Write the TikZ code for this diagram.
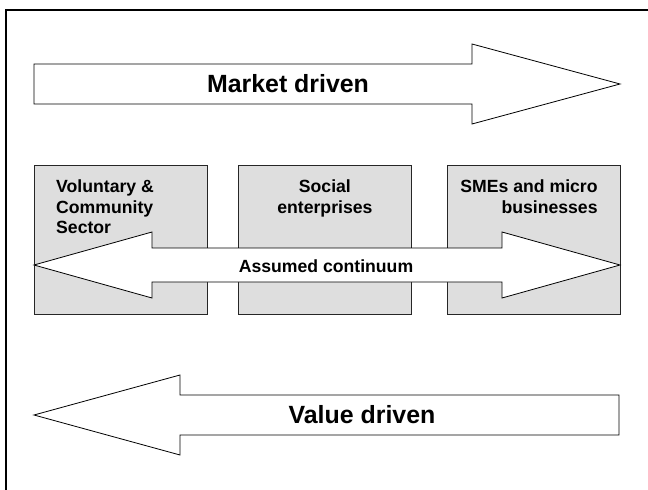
\documentclass[tikz,border=0pt]{standalone}
\usepackage{fontspec}
\setmainfont{Liberation Sans}
\begin{document}
\begin{tikzpicture}[x=1bp,y=-1bp,line join=miter,font=\bfseries]
	\tikzset{every node/.style={inner sep=0pt},
		sectorbox/.style={draw=black!85,fill=black!13,line width=0.8bp,minimum width=173bp,minimum height=149bp,anchor=north west},
		blockarrow/.style={draw=black,fill=white,line width=0.8bp},
		bigtext/.style={font=\bfseries\fontsize{25}{30}\selectfont},
		boxtext/.style={font=\bfseries\fontsize{17.7}{20.5}\selectfont}}
	\useasboundingbox (0,0) rectangle (648,490);
	\clip (0,0) rectangle (648,490);
	\draw[line width=2bp] (6,500) |- (660,10);
	\draw[blockarrow] (34,64)--(472,64)--(472,44)--(620,84)--(472,124)--(472,104)--(34,104)--cycle;
	\node[bigtext] (market) at (288,84) {Market driven};
	\foreach \x/\name in {34/vcs,238/se,447/sme}
	\node[sectorbox] (\name) at (\x,165) {};
	\node[boxtext,anchor=north west,align=left] (vcslabel) at ([shift={(22,15)}]vcs.north west) {Voluntary \&\\Community\\Sector};
	\node[boxtext,anchor=north,align=center] (selabel) at ([shift={(0,15)}]se.north) {Social\\enterprises};
	\node[boxtext,anchor=north east,align=right] (smelabel) at ([shift={(-23,15)}]sme.north east) {SMEs and micro\\businesses};
	\draw[blockarrow] (34,265)--(152,232)--(152,248)--(502,248)--(502,232)--(620,265)--(502,298)--(502,282)--(152,282)--(152,298)--cycle;
	\node[boxtext] (continuum) at (326,266) {Assumed continuum};
	\draw[blockarrow] (34,415)--(180,375)--(180,395)--(619,395)--(619,435)--(180,435)--(180,455)--cycle;
	\node[bigtext] (value) at (362,415) {Value driven};
\end{tikzpicture}
\end{document}
